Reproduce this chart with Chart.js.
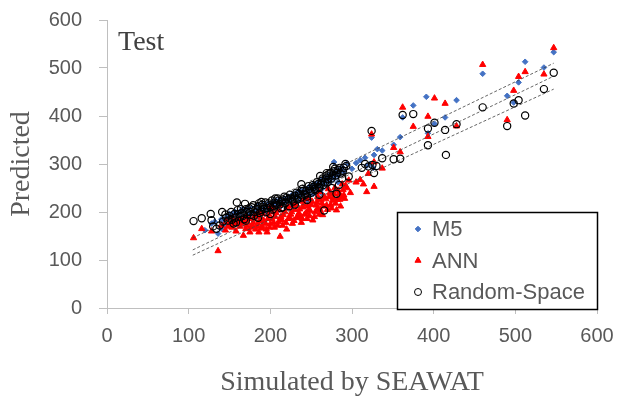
<!DOCTYPE html>
<html>
<head>
<meta charset="utf-8">
<script src="https://cdn.jsdelivr.net/npm/chart.js@4"></script>
<style>
  html, body { margin: 0; padding: 0; background: #fff; }
  #wrap { width: 617px; height: 403px; }
</style>
</head>
<body>
<div id="wrap"><canvas id="chart" width="617" height="403"></canvas></div>
<script>
// [simulated, predicted] pairs
const m5Points = [
  [547,533],[535,501],[512,513],[504,470],[498,428],[490,442],[460,488],[428,433],[414,397],[401,384],
  [391,440],[393,364],[375,422],[362,397],[359,356],[351,340],[337,328],[331,331],[324,355],[327,319],
  [316,313],[310,308],[322,300],[305,302],[294,301],[283,262],[278,304],[300,290],[318,296],[326,292],
  [128,176],[136,155],[140,165],[145,172],[148,185],[152,178],[155,190],[158,182],[160,195],[163,188],
  [166,180],[168,198],[170,192],[173,186],[175,200],[178,195],[180,205],[183,198],[185,190],[188,208],
  [190,202],[193,196],[195,212],[198,205],[200,200],[203,214],[205,208],[208,218],[210,204],[213,212],
  [215,222],[218,215],[220,208],[223,225],[225,218],[228,212],[230,228],[233,222],[235,232],[238,226],
  [240,236],[243,230],[245,240],[248,234],[250,245],[253,238],[255,250],[258,244],[260,255],[263,248],
  [265,262],[268,256],[270,268],[273,262],[275,275],[278,270],[280,280],[283,276],[286,288],[290,284],
  [150,196],[165,205],[185,215],[205,225],[225,232],[245,222],[262,240],[140,185],[120,162],[132,180],
  [143,178],[147,190],[151,186],[154,196],[157,200],[159,188],[162,198],[164,192],[167,204],[169,196],
  [172,206],[174,198],[177,208],[179,200],[182,210],[184,204],[187,214],[189,206],[192,216],[194,208],
  [197,218],[199,212],[202,220],[204,214],[207,224],[209,216],[212,226],[214,218],[217,228],[219,222],
  [222,232],[224,226],[227,236],[229,230],[232,240],[234,234],[237,244],[239,238],[242,248],[244,242],
  [247,252],[249,246],[252,256],[254,250],[257,260],[259,256],[262,266],[264,260],[267,272],[269,266],
  [272,278],[274,272],[277,284],[279,278],[282,290],[285,284],[288,294]
];
const annPoints = [
  [547,542],[535,487],[512,492],[504,482],[498,453],[490,392],[460,507],[428,379],[414,426],[401,437],
  [393,399],[393,357],[375,378],[362,418],[351,334],[359,325],[337,291],[324,362],[327,304],[327,253],
  [318,242],[310,267],[320,280],[314,258],[298,240],[305,262],[290,235],[292,255],
  [106,146],[116,165],[128,160],[136,119],[140,172],[145,162],[150,175],[153,168],[155,182],[158,160],
  [160,178],[163,170],[165,185],[167,151],[170,165],[172,178],[175,158],[178,172],[180,185],[182,164],
  [185,176],[186,158],[188,190],[190,170],[192,182],[195,164],[196,158],[198,195],[200,175],[202,185],
  [205,168],[207,198],[210,180],[212,149],[213,190],[215,172],[218,200],[220,164],[222,186],[225,195],
  [227,176],[230,205],[232,188],[235,198],[237,189],[238,178],[240,210],[242,195],[245,186],[247,205],
  [248,192],[250,215],[252,183],[255,200],[257,220],[258,208],[260,195],[262,225],[264,194],[265,212],
  [268,227],[270,205],[272,232],[274,215],[276,224],[278,238],[280,218],[281,204],[283,245],[285,226],
  [287,232],[288,258],[271,248],[258,232],[240,222],[222,212],[205,206],[188,200],[170,190],[152,185],
  [185,195],[200,210],[215,215],[230,218],[245,228],[260,242],
  [146,180],[149,170],[154,188],[157,176],[161,184],[164,176],[168,180],[171,172],[174,186],[176,168],
  [179,178],[181,192],[184,170],[187,182],[189,166],[191,196],[194,176],[197,186],[199,168],[201,200],
  [204,178],[206,190],[209,172],[211,204],[214,184],[216,194],[219,178],[221,208],[224,188],[226,200],
  [229,182],[231,212],[234,192],[236,206],[239,186],[241,216],[244,198],[246,212],[249,202],[251,222],
  [254,190],[256,214],[259,228],[261,205],[263,218],[266,232],[269,214],[273,240],[275,208],[277,230],
  [279,250],[282,226],[284,238],[286,212],[289,246],[291,228],[294,250],[296,266]
];
const randomSpacePoints = [
  [547,490],[535,456],[512,401],[504,433],[498,426],[490,379],[460,418],[428,383],[414,371],[415,319],
  [401,386],[393,374],[393,339],[375,404],[362,402],[359,311],[351,310],[337,312],[324,369],[327,281],
  [320,295],[325,298],[330,296],[316,300],[312,292],[296,274],[281,238],[284,256],[266,203],[277,294],
  [269,281],[261,275],[238,258],[106,181],[116,187],[127,196],[128,183],[141,200],[159,220],[169,217],
  [189,221],[206,228],
  [130,170],[134,165],[138,172],[142,180],[146,188],[150,192],[153,184],[156,196],[158,178],[160,204],
  [163,190],[165,198],[168,185],[170,206],[172,195],[175,200],[177,210],[180,192],[182,205],[185,212],
  [187,198],[190,215],[192,206],[195,200],[198,218],[200,210],[203,205],[205,220],[208,214],[210,224],
  [213,208],[215,226],[218,218],[220,230],[223,212],[225,228],[228,222],[230,234],[233,226],[235,238],
  [238,230],[240,244],[243,236],[245,232],[248,248],[250,240],[253,252],[255,245],[258,258],[260,250],
  [263,265],[265,256],[268,272],[270,262],[272,280],[275,270],[278,285],[280,276],[283,288],[286,280],
  [290,292],[293,296],[288,270],[275,250],[260,236],[245,225],[230,215],[215,210],[200,196],[185,188],
  [170,182],[155,176],
  [145,195],[148,182],[152,200],[157,188],[161,196],[164,206],[167,192],[171,200],[174,208],[176,194],
  [179,214],[181,200],[184,206],[186,218],[189,204],[191,210],[194,220],[196,208],[199,214],[202,224],
  [204,212],[207,218],[209,228],[212,216],[214,222],[217,232],[219,220],[222,226],[224,236],[227,226],
  [229,230],[232,240],[234,230],[237,236],[239,248],[242,238],[244,244],[247,254],[249,244],[252,256],
  [254,248],[257,262],[259,252],[262,258],[264,270],[267,262],[269,276],[271,268],[274,282],[276,276],
  [279,290],[282,282],[285,292],[289,286],[292,300]
];
// trend lines: [x0, y0, x1, y1]
const trendLines = [
  [105,146,547,510],
  [105,121,547,483],
  [105,110,547,456]
];
const axisTicks = [0,100,200,300,400,500,600];

const toXY = pts => pts.map(p => ({ x: p[0], y: p[1] }));

const legendItems = [
  { text: 'M5', style: 'rectRot', r: 2.8, fill: '#4472C4', stroke: '#4472C4' },
  { text: 'ANN', style: 'triangle', r: 3.5, fill: '#FF0000', stroke: '#FF0000' },
  { text: 'Random-Space', style: 'circle', r: 3.5, fill: 'rgba(0,0,0,0)', stroke: '#000000' }
];

const extras = {
  id: 'extras',
  afterDraw(chart) {
    const ctx = chart.ctx;
    ctx.save();
    // panel label
    ctx.fillStyle = '#404040';
    ctx.font = '28px "Liberation Serif", "Times New Roman", serif';
    ctx.textBaseline = 'middle';
    ctx.textAlign = 'left';
    ctx.fillText('Test', 118, 43);
    // legend box
    ctx.fillStyle = '#ffffff';
    ctx.fillRect(397, 212, 201, 98);
    ctx.strokeStyle = '#000000';
    ctx.lineWidth = 1.5;
    ctx.strokeRect(397.5, 212.5, 200, 97);
    ctx.font = '22px "Liberation Sans", Arial, sans-serif';
    legendItems.forEach((it, i) => {
      const y = 229 + i * 31.5;
      ctx.fillStyle = it.fill;
      ctx.strokeStyle = it.stroke;
      ctx.lineWidth = 1;
      Chart.helpers.drawPoint(ctx, { pointStyle: it.style, radius: it.r, borderWidth: 1, rotation: 0 }, 418, y);
      ctx.fillStyle = '#595959';
      ctx.fillText(it.text, 432, y + 1);
    });
    ctx.restore();
  }
};

const datasets = [
  {
    label: 'M5', data: toXY(m5Points), order: 3,
    pointStyle: 'rectRot', pointRadius: 2.8, borderWidth: 1,
    backgroundColor: '#4472C4', borderColor: '#4472C4'
  },
  {
    label: 'ANN', data: toXY(annPoints), order: 2,
    pointStyle: 'triangle', pointRadius: 3.6, borderWidth: 1,
    backgroundColor: '#FF0000', borderColor: '#FF0000'
  },
  {
    label: 'Random-Space', data: toXY(randomSpacePoints), order: 1,
    pointStyle: 'circle', pointRadius: 3.6, borderWidth: 1.2,
    backgroundColor: 'rgba(0,0,0,0)', borderColor: '#000000'
  }
];
trendLines.forEach((l, i) => {
  datasets.push({
    label: 'trend' + i,
    data: [{ x: l[0], y: l[1] }, { x: l[2], y: l[3] }],
    showLine: true, order: 0,
    borderColor: '#404040', borderWidth: 0.8, borderDash: [3, 2],
    pointRadius: 0, backgroundColor: 'rgba(0,0,0,0)'
  });
});

const tickFont = { family: '"Liberation Sans", Arial, sans-serif', size: 20 };
const titleFont = { family: '"Liberation Serif", "Times New Roman", serif', size: 28 };

new Chart(document.getElementById('chart'), {
  type: 'scatter',
  data: { datasets },
  options: {
    responsive: false,
    animation: false,
    layout: { padding: { top: 20, right: 20, left: 0, bottom: 0 } },
    plugins: { legend: { display: false }, tooltip: { enabled: false } },
    scales: {
      x: {
        type: 'linear', min: 0, max: 600,
        afterBuildTicks: s => { s.ticks = axisTicks.map(v => ({ value: v })); },
        afterFit: s => { s.height = 95; s.paddingLeft = 0; s.paddingRight = 18; },
        border: { color: '#bfbfbf', width: 1 },
        grid: { drawOnChartArea: false, drawTicks: true, tickLength: 6, color: '#bfbfbf' },
        ticks: { color: '#595959', font: tickFont, padding: 10, maxRotation: 0 },
        title: { display: true, text: 'Simulated by SEAWAT', color: '#595959', font: titleFont, padding: { top: 0, bottom: 4 } }
      },
      y: {
        type: 'linear', min: 0, max: 600,
        afterBuildTicks: s => { s.ticks = axisTicks.map(v => ({ value: v })); },
        afterFit: s => { s.width = 107; s.paddingTop = 10; s.paddingBottom = 10; },
        border: { color: '#bfbfbf', width: 1 },
        grid: { drawOnChartArea: false, drawTicks: true, tickLength: 8, color: '#bfbfbf' },
        ticks: { color: '#595959', font: tickFont, padding: 17 },
        title: { display: true, text: 'Predicted', color: '#595959', font: titleFont, padding: { top: 5, bottom: 0 } }
      }
    }
  },
  plugins: [extras]
});
</script>
</body>
</html>
